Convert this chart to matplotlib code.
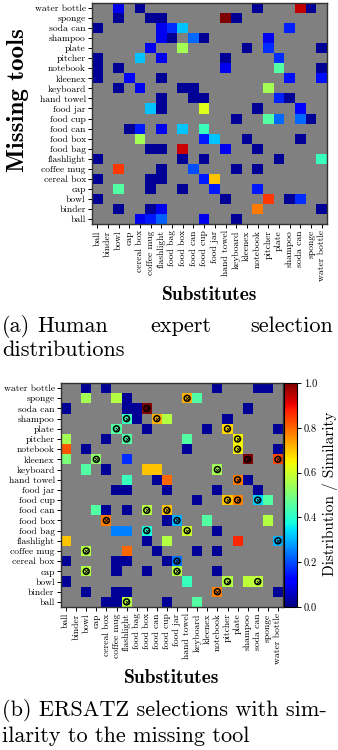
import numpy as np
import matplotlib
matplotlib.use("Agg")
import matplotlib.pyplot as plt

# ---------------- data ----------------
tools = ["ball", "binder", "bowl", "cap", "cereal box", "coffee mug", "flashlight",
         "food bag", "food box", "food can", "food cup", "food jar", "hand towel",
         "keyboard", "kleenex", "notebook", "pitcher", "plate", "shampoo",
         "soda can", "sponge", "water bottle"]

# (a) human expert selection distributions: substitutes chosen per missing tool (rows in tools order)
human_subs = [
    ["cereal box", "coffee mug", "flashlight", "food cup", "keyboard"],        # ball
    ["bowl", "coffee mug", "flashlight", "notebook", "water bottle"],          # binder
    ["ball", "hand towel", "pitcher", "shampoo", "soda can"],                 # bowl
    ["bowl", "coffee mug", "food box", "food jar", "notebook"],               # cap
    ["ball", "coffee mug", "flashlight", "food cup", "food jar"],             # cereal box
    ["bowl", "flashlight", "food can", "keyboard", "notebook"],               # coffee mug
    ["ball", "food box", "food cup", "plate", "water bottle"],                # flashlight
    ["coffee mug", "flashlight", "food box", "hand towel", "notebook"],       # food bag
    ["cereal box", "food cup", "food jar", "kleenex", "soda can"],            # food box
    ["cap", "cereal box", "flashlight", "food box", "food cup"],              # food can
    ["keyboard", "pitcher", "plate", "soda can", "sponge"],                   # food cup
    ["coffee mug", "flashlight", "food cup", "notebook", "soda can"],         # food jar
    ["flashlight", "food can", "food cup", "plate", "shampoo"],               # hand towel
    ["bowl", "cereal box", "food box", "food can", "pitcher"],                # keyboard
    ["ball", "cap", "flashlight", "shampoo", "water bottle"],                 # kleenex
    ["ball", "bowl", "hand towel", "plate", "water bottle"],                  # notebook
    ["ball", "cereal box", "flashlight", "hand towel", "plate"],              # pitcher
    ["coffee mug", "food box", "kleenex", "pitcher", "water bottle"],         # plate
    ["flashlight", "food bag", "food can", "food cup", "pitcher"],            # shampoo
    ["ball", "flashlight", "food bag", "food box", "shampoo"],                # soda can
    ["bowl", "coffee mug", "flashlight", "hand towel", "keyboard"],           # sponge
    ["bowl", "cereal box", "notebook", "soda can", "sponge"],                 # water bottle
]
human_vals = [
    [0.10, 0.15, 0.22, 0.10, 0.02],
    [0.02, 0.02, 0.10, 0.78, 0.02],
    [0.02, 0.02, 0.85, 0.02, 0.17],
    [0.45, 0.02, 0.02, 0.15, 0.15],
    [0.02, 0.02, 0.02, 0.15, 0.70],
    [0.85, 0.02, 0.20, 0.02, 0.02],
    [0.02, 0.02, 0.02, 0.02, 0.42],
    [0.02, 0.02, 0.93, 0.10, 0.02],
    [0.55, 0.15, 0.32, 0.02, 0.02],
    [0.02, 0.15, 0.10, 0.32, 0.42],
    [0.02, 0.45, 0.23, 0.23, 0.02],
    [0.32, 0.02, 0.62, 0.02, 0.12],
    [0.02, 0.02, 0.02, 0.16, 0.02],
    [0.02, 0.10, 0.02, 0.02, 0.55],
    [0.02, 0.12, 0.02, 0.14, 0.14],
    [0.02, 0.02, 0.10, 0.45, 0.02],
    [0.02, 0.32, 0.10, 0.02, 0.17],
    [0.10, 0.55, 0.02, 0.17, 0.02],
    [0.10, 0.02, 0.23, 0.02, 0.10],
    [0.02, 0.10, 0.17, 0.32, 0.16],
    [0.02, 0.02, 0.02, 1.00, 0.02],
    [0.10, 0.02, 0.02, 0.94, 0.02],
]

# (b) ERSATZ selections (value = distribution / similarity)
ersatz_subs = [
    ["cereal box", "coffee mug", "flashlight", "food cup", "keyboard"],       # ball
    ["bowl", "coffee mug", "flashlight", "notebook", "water bottle"],         # binder
    ["ball", "hand towel", "pitcher", "shampoo", "soda can"],                 # bowl
    ["bowl", "coffee mug", "food box", "food jar", "notebook"],               # cap
    ["ball", "coffee mug", "flashlight", "food cup", "food jar"],             # cereal box
    ["bowl", "flashlight", "food can", "keyboard", "notebook"],               # coffee mug
    ["ball", "food box", "food cup", "plate", "water bottle"],                # flashlight
    ["coffee mug", "flashlight", "food box", "hand towel", "notebook"],       # food bag
    ["cereal box", "food cup", "food jar", "kleenex", "sponge"],              # food box
    ["cap", "cereal box", "flashlight", "food box", "food cup"],              # food can
    ["keyboard", "pitcher", "plate", "soda can", "sponge"],                   # food cup
    ["coffee mug", "flashlight", "food cup", "notebook", "soda can"],         # food jar
    ["flashlight", "food can", "food cup", "plate", "shampoo"],               # hand towel
    ["bowl", "cereal box", "food box", "food can", "notebook"],               # keyboard
    ["ball", "cap", "flashlight", "shampoo", "water bottle"],                 # kleenex
    ["ball", "bowl", "hand towel", "plate", "water bottle"],                  # notebook
    ["ball", "cereal box", "flashlight", "hand towel", "plate"],              # pitcher
    ["coffee mug", "food box", "kleenex", "pitcher", "water bottle"],         # plate
    ["flashlight", "food bag", "food can", "food cup", "pitcher"],            # shampoo
    ["ball", "flashlight", "food bag", "food box", "shampoo"],                # soda can
    ["bowl", "coffee mug", "flashlight", "hand towel", "keyboard"],           # sponge
    ["bowl", "cereal box", "notebook", "soda can", "sponge"],                 # water bottle
]
ersatz_vals = [
    [0.02, 0.02, 0.57, 0.02, 0.45],
    [0.02, 0.02, 0.02, 0.77, 0.02],
    [0.02, 0.42, 0.57, 0.58, 0.58],
    [0.57, 0.02, 0.02, 0.57, 0.02],
    [0.02, 0.02, 0.02, 0.02, 0.24],
    [0.57, 0.80, 0.02, 0.02, 0.02],
    [0.70, 0.02, 0.57, 0.87, 0.30],
    [0.25, 0.25, 0.38, 0.60, 0.02],
    [0.78, 0.02, 0.30, 0.45, 0.57],
    [0.45, 0.02, 0.02, 0.57, 0.70],
    [0.02, 0.70, 0.77, 0.33, 0.45],
    [0.02, 0.02, 0.02, 0.02, 0.02],
    [0.42, 0.02, 0.80, 0.78, 0.02],
    [0.45, 0.02, 0.70, 0.70, 0.55],
    [0.50, 0.52, 0.17, 1.00, 0.83],
    [0.82, 0.02, 0.02, 0.65, 0.02],
    [0.55, 0.02, 0.45, 0.45, 0.65],
    [0.45, 0.02, 0.02, 0.68, 0.02],
    [0.42, 0.02, 0.72, 0.57, 0.02],
    [0.02, 0.02, 0.02, 1.00, 0.02],
    [0.55, 0.57, 0.02, 0.72, 0.45],
    [0.02, 0.02, 0.02, 0.02, 0.02],
]
# substitutes actually selected by ERSATZ (circled markers)
ersatz_marked = [
    ["flashlight"], ["notebook"], ["pitcher", "soda can"], ["bowl", "food jar"],
    ["food jar"], ["bowl"], ["water bottle"], ["food box", "hand towel"],
    ["cereal box", "food jar"], ["food box", "food cup"],
    ["pitcher", "plate", "soda can"], [], ["plate"], ["notebook"],
    ["cap", "shampoo", "water bottle"], ["plate"], ["flashlight", "plate"],
    ["coffee mug", "pitcher"], ["flashlight", "food can"], ["food box"],
    ["hand towel"], [],
]

# ---------------- helpers ----------------
plt.rcParams["font.family"] = "cmr10"
plt.rcParams["axes.formatter.use_mathtext"] = True
plt.rcParams["mathtext.fontset"] = "cm"

W, H = 338, 750
fig = plt.figure(figsize=(W / 100, H / 100), dpi=100)


def build(subs, vals):
    n = len(tools)
    m = np.full((n, n), np.nan)
    for r, (ss, vv) in enumerate(zip(subs, vals)):
        for s, v in zip(ss, vv):
            m[r, tools.index(s)] = v
    return np.ma.masked_invalid(m)


def box(x0, y0, x1, y1):
    return [x0 / W, 1 - y1 / H, (x1 - x0) / W, (y1 - y0) / H]


cmap = plt.get_cmap("jet").copy()
cmap.set_bad("#808080")
TICKFS = 6.9


def style(ax):
    n = len(tools)
    ax.set_facecolor("#808080")
    ax.set_xticks(range(n))
    ax.set_xticklabels(tools, rotation=90, fontsize=TICKFS)
    ax.set_yticks(range(n))
    ax.set_yticklabels(tools, fontsize=TICKFS)
    ax.tick_params(length=3, width=0.7, pad=1.5)
    for sp in ax.spines.values():
        sp.set_linewidth(1.0)
        sp.set_color("#333333")


# (a)
axA = fig.add_axes(box(92, 3, 327, 224))
axA.imshow(build(human_subs, human_vals), cmap=cmap, vmin=0, vmax=1,
           origin="lower", aspect="auto", interpolation="nearest")
style(axA)

# (b)
axB = fig.add_axes(box(61, 383, 283, 607))
imB = axB.imshow(build(ersatz_subs, ersatz_vals), cmap=cmap, vmin=0, vmax=1,
                 origin="lower", aspect="auto", interpolation="nearest")
style(axB)
mx, my = [], []
for r, ss in enumerate(ersatz_marked):
    for s in ss:
        mx.append(tools.index(s))
        my.append(r)
axB.scatter(mx, my, s=18, facecolors="none", edgecolors="black", linewidths=1.1, zorder=3)
axB.scatter(mx, my, s=5, marker="x", color="black", linewidths=0.6, zorder=4)
axB.set_xlim(-0.5, len(tools) - 0.5)
axB.set_ylim(-0.5, len(tools) - 0.5)

cax = fig.add_axes(box(284, 383, 297, 607))
cb = fig.colorbar(imB, cax=cax, ticks=[0, 0.2, 0.4, 0.6, 0.8, 1.0], format="%.1f")
cb.ax.tick_params(labelsize=7.5, length=3, width=0.7, pad=2)
cb.outline.set_linewidth(0.8)
fig.text(330 / W, 1 - 494 / H, "Distribution / Similarity", rotation=90,
         ha="center", va="center", fontsize=11)

# labels
fig.text(18 / W, 1 - 100 / H, "Missing tools", rotation=90, ha="center", va="center",
         fontsize=18, family="cmb10")
fig.text(210 / W, 1 - 295 / H, "Substitutes", ha="center", va="center",
         fontsize=14, family="cmb10")
fig.text(172 / W, 1 - 678 / H, "Substitutes", ha="center", va="center",
         fontsize=14, family="cmb10")

# captions
CFS = 16
fig.text(2 / W, 1 - 332 / H, "(a)", ha="left", va="baseline", fontsize=CFS)
fig.text(37 / W, 1 - 332 / H, "Human", ha="left", va="baseline", fontsize=CFS)
fig.text(150 / W, 1 - 332 / H, "expert", ha="left", va="baseline", fontsize=CFS)
fig.text(333 / W, 1 - 332 / H, "selection", ha="right", va="baseline", fontsize=CFS)
fig.text(2 / W, 1 - 356 / H, "distributions", ha="left", va="baseline", fontsize=CFS)
fig.text(2 / W, 1 - 716 / H, "(b) ERSATZ selections with sim-", ha="left",
         va="baseline", fontsize=CFS)
fig.text(2 / W, 1 - 742 / H, "ilarity to the missing tool", ha="left",
         va="baseline", fontsize=CFS)

fig.savefig("out.png", dpi=100)
